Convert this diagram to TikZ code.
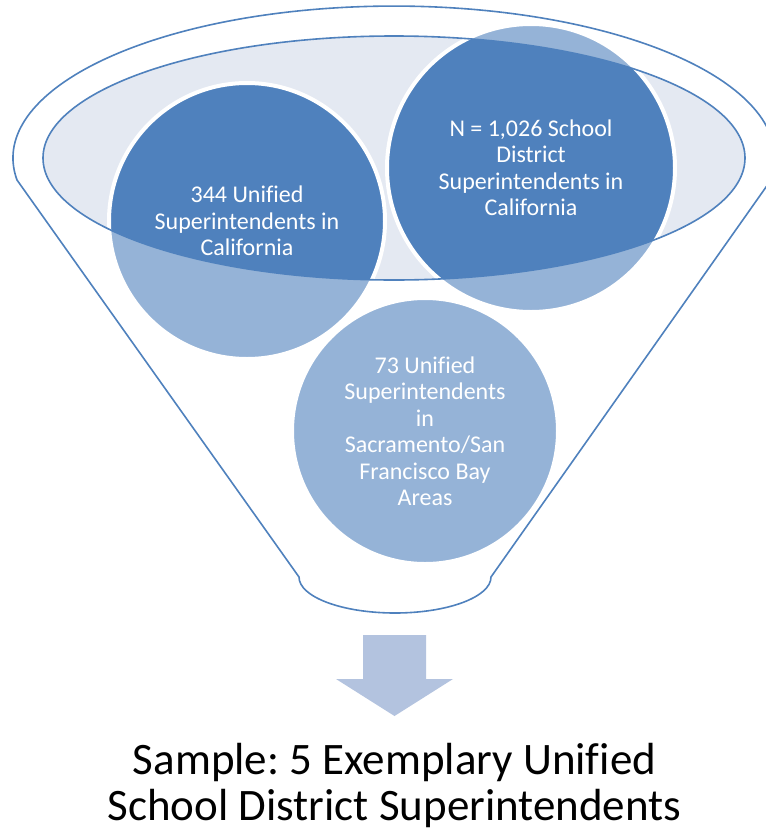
\documentclass[tikz,border=0pt]{standalone}
\usepackage{fontspec}
\setmainfont{Carlito}[Ligatures = NoCommon]
\frenchspacing
\usetikzlibrary{positioning}
\definecolor{mblue}{HTML}{4F81BD}
\definecolor{rimfill}{RGB}{228, 233, 242}
\definecolor{arrowblue}{HTML}{B3C3DF}
\tikzset{ball/.style = {circle, fill = mblue, draw = white, line width = 4, inner sep = 0,
    text = white, align = center, font = \fontsize{24}{26.5}\selectfont}}
\tikzset{funnel/.style = {draw = mblue, line width = 1.6}}

\begin{document}
\begin{tikzpicture}[x = 1pt, y = -1pt]
    \useasboundingbox (0, 0) rectangle (766, 828);
    \fill [rimfill] (394, 158) ellipse [x radius = 351, y radius = 122];
    \node [ball, minimum size = 276] (unified) at (247, 221) {344 Unified\\Superintendents in\\California};
    \node [ball, minimum size = 288] (all) at (531, 168) {N = 1,026 School\\District\\Superintendents in\\California};
    \node [ball, minimum size = 266] (bay) at (425, 431) {73 Unified\\Superintendents\\in\\Sacramento/San\\Francisco Bay\\Areas};
    % body of the funnel pales whatever lies outside the opening
    \fill [white, opacity = 0.4, even odd rule] (-10, -10) rectangle (780, 840)
      (394, 158) ellipse [x radius = 351, y radius = 122];
    \draw [funnel] (394, 158) ellipse [x radius = 351, y radius = 122];
    \draw [funnel] (17, 180) arc [start angle = 171.7, end angle = 368.3, x radius = 381, y radius = 152]
      -- (491, 577) arc [start angle = 0, end angle = 180, x radius = 96, y radius = 36] -- cycle;
    % arrow down to the sample
    \fill [arrowblue] (363, 635) -- (426, 635) -- (426, 679) -- (453, 679) -- (394.5, 716)
      -- (336, 679) -- (363, 679) -- cycle;
    \node [align = center, font = \fontsize{45}{46}\selectfont] (sample) at (394.5, 785)
      {Sample: 5 Exemplary Unified\\School District Superintendents};
\end{tikzpicture}
\end{document}
